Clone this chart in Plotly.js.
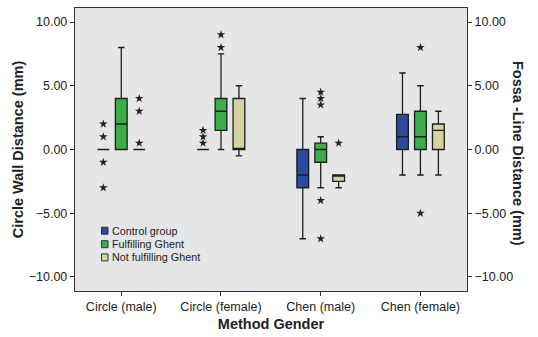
<!DOCTYPE html>
<html><head><meta charset="utf-8">
<script src="https://cdn.plot.ly/plotly-3.0.1.min.js"></script>
<style>html,body{margin:0;padding:0;background:#fff}#chart{width:538px;height:337px}</style>
</head><body><div id="chart"></div>
<script>
var categories = ['Circle (male)', 'Circle (female)', 'Chen (male)', 'Chen (female)'];
var groups = ['Control group', 'Fulfilling Ghent', 'Not fulfilling Ghent'];
var colors = ['#2b4a9e', '#3cae4a', '#d3d2a0'];

// Control group
var controlQ1 = [0, 0, -3, 0];
var controlMedian = [0, 0, -2, 1];
var controlQ3 = [0, 0, 0, 2.75];
var controlLow = [0, 0, -7, -2];
var controlHigh = [0, 0, 4, 6];
var controlOutliers = [[2, 1, -1, -3], [1.5, 1, 0.5], [], []];

// Fulfilling Ghent
var ghentQ1 = [0, 1.5, -1, 0];
var ghentMedian = [2, 3, 0, 1];
var ghentQ3 = [4, 4, 0.5, 3];
var ghentLow = [0, 0, -3, -2];
var ghentHigh = [8, 7.5, 1, 5];
var ghentOutliers = [[], [8, 9], [4.5, 4, 3.5, -4, -7], [8, -5]];

// Not fulfilling Ghent
var notQ1 = [0, 0, -2.5, 0];
var notMedian = [0, 0, -2, 1.5];
var notQ3 = [0, 4, -2, 2];
var notLow = [0, -0.5, -3, -2];
var notHigh = [0, 5, -2, 3];
var notOutliers = [[4, 3, 0.5], [], [0.5], []];

var stats = [
  [controlQ1, controlMedian, controlQ3, controlLow, controlHigh, controlOutliers],
  [ghentQ1, ghentMedian, ghentQ3, ghentLow, ghentHigh, ghentOutliers],
  [notQ1, notMedian, notQ3, notLow, notHigh, notOutliers]
];

var W = 538, H = 337, M = {l: 75, r: 71, t: 8, b: 46};
var PW = W - M.l - M.r, PH = H - M.t - M.b;
function px(x) { return (x - M.l) / PW; }
function py(y) { return (H - M.b - y) / PH; }

var offset = 0.18, boxW = 0.118;
var traces = [];
stats.forEach(function (s, g) {
  var xs = categories.map(function (c, i) { return i + (g - 1) * offset; });
  traces.push({
    type: 'box', name: groups[g], x: xs,
    q1: s[0], median: s[1], q3: s[2], lowerfence: s[3], upperfence: s[4],
    width: boxW, whiskerwidth: 0.55, boxpoints: false, showlegend: false,
    fillcolor: colors[g], line: {color: '#1e1e1e', width: 1.3},
    hoverinfo: 'skip'
  });
});
stats.forEach(function (s, g) {
  var ox = [], oy = [];
  s[5].forEach(function (arr, i) {
    arr.forEach(function (v) { ox.push(i + (g - 1) * offset); oy.push(v); });
  });
  traces.push({
    type: 'scatter', mode: 'markers', x: ox, y: oy, showlegend: false,
    marker: {symbol: 'star', size: 6.5, color: '#222'}, hoverinfo: 'skip'
  });
});
traces.push({type: 'scatter', x: [], y: [], yaxis: 'y2', showlegend: false});

// custom compact legend (swatch + label)
var shapes = [], annotations = [];
var legendRows = [230.7, 244.2, 257.4];
groups.forEach(function (name, g) {
  var yc = legendRows[g];
  shapes.push({type: 'rect', xref: 'paper', yref: 'paper',
    x0: px(101.5), x1: px(108), y0: py(yc + 3.5), y1: py(yc - 3.5),
    fillcolor: colors[g], line: {color: '#333', width: 1}});
  annotations.push({text: name, showarrow: false, xref: 'paper', yref: 'paper',
    x: px(109.5), y: py(yc), xanchor: 'left', yanchor: 'middle',
    font: {size: 10.8, color: '#222'}});
});
annotations.push({
  text: 'Fossa -Line Distance (mm)', textangle: 90, showarrow: false,
  xref: 'paper', yref: 'paper', x: px(518), y: py(153), xanchor: 'center', yanchor: 'middle',
  font: {size: 14.5, color: '#222', weight: 'bold'}
});

var yr = [-11.1, 11.1];
var layout = {
  width: W, height: H,
  margin: M,
  paper_bgcolor: '#fff', plot_bgcolor: '#e5e6e8',
  font: {family: '"Liberation Sans", Arial, sans-serif', size: 12.5, color: '#222'},
  showlegend: false,
  xaxis: {
    range: [-0.464, 3.467], tickmode: 'array', tickvals: [0, 1, 2, 3], ticktext: categories,
    showgrid: false, zeroline: false, showline: true, linecolor: '#333', linewidth: 1.2, mirror: true,
    ticks: 'outside', ticklen: 4, tickcolor: '#333',
    title: {text: 'Method Gender', font: {size: 14.5, color: '#222', weight: 'bold'}, standoff: 5}
  },
  yaxis: {
    range: yr, dtick: 5, tick0: 0, tickformat: '.2f',
    showgrid: false, zeroline: false, showline: true, linecolor: '#333', linewidth: 1.2, mirror: true,
    ticks: 'outside', ticklen: 4, tickcolor: '#333',
    title: {text: 'Circle Wall Distance (mm)', font: {size: 14.5, color: '#222', weight: 'bold'}, standoff: 1}
  },
  yaxis2: {
    range: yr, dtick: 5, tick0: 0, tickformat: '.2f', overlaying: 'y', side: 'right',
    showgrid: false, zeroline: false, showline: false,
    ticks: 'outside', ticklen: 4, tickcolor: '#333'
  },
  shapes: shapes,
  annotations: annotations
};
Plotly.newPlot('chart', traces, layout, {displayModeBar: false, staticPlot: true});
</script></body></html>
